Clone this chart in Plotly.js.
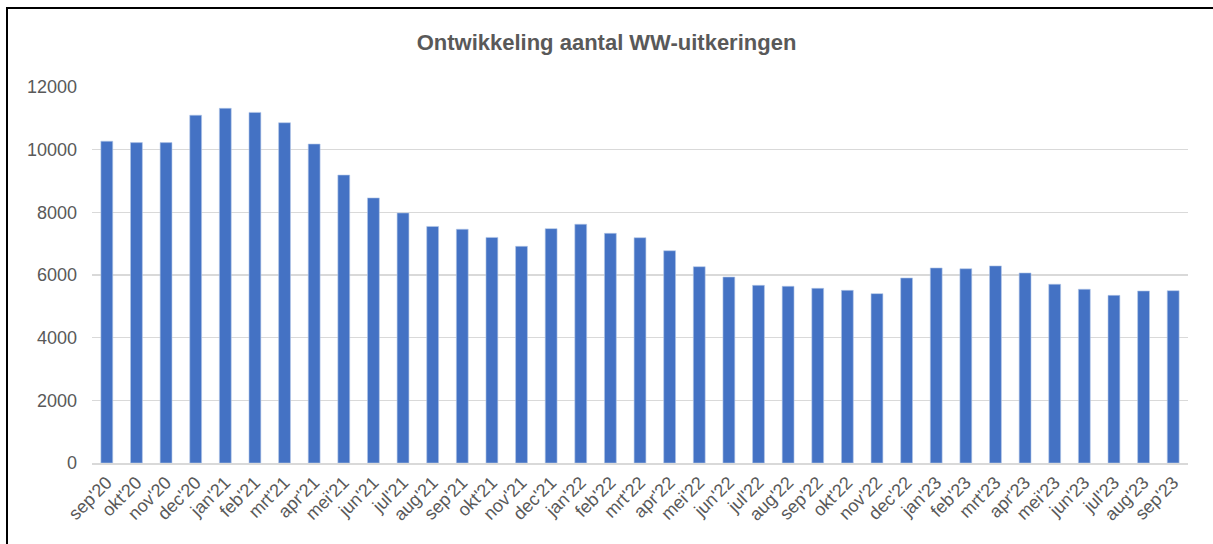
<!DOCTYPE html>
<html>
<head>
<meta charset="utf-8">
<script src="https://cdn.plot.ly/plotly-3.0.1.min.js"></script>
<style>
  html, body { margin: 0; padding: 0; background: #ffffff; overflow: hidden; }
  #chart { position: absolute; left: 0; top: 0; width: 1213px; height: 544px; }
  #frame {
    position: absolute; left: 6px; top: 7px; width: 1220px; height: 560px;
    border: 2px solid #000000; pointer-events: none;
  }
</style>
</head>
<body>
<div id="chart"></div>
<div id="frame"></div>
<script>
const months = [
  "sep'20", "okt'20", "nov'20", "dec'20", "jan'21", "feb'21", "mrt'21", "apr'21",
  "mei'21", "jun'21", "jul'21", "aug'21", "sep'21", "okt'21", "nov'21", "dec'21",
  "jan'22", "feb'22", "mrt'22", "apr'22", "mei'22", "jun'22", "jul'22", "aug'22",
  "sep'22", "okt'22", "nov'22", "dec'22", "jan'23", "feb'23", "mrt'23", "apr'23",
  "mei'23", "jun'23", "jul'23", "aug'23", "sep'23"
];

const uitkeringen = [
  10270, 10225, 10225, 11100, 11320, 11190, 10860, 10180,
  9190, 8460, 7980, 7550, 7460, 7200, 6915, 7480,
  7620, 7330, 7190, 6775, 6265, 5935, 5670, 5640,
  5575, 5510, 5405, 5905, 6225, 6200, 6290, 6065,
  5705, 5545, 5350, 5490, 5500
];

const yTicks = [0, 2000, 4000, 6000, 8000, 10000, 12000];

const trace = {
  x: months,
  y: uitkeringen,
  type: 'bar',
  marker: { color: '#4472c4', line: { color: '#b4c7e7', width: 0.6 } },
  hoverinfo: 'x+y'
};

const layout = {
  width: 1213,
  height: 544,
  title: {
    text: '<b>Ontwikkeling aantal WW-uitkeringen</b>',
    font: { family: 'Liberation Sans, Arial, sans-serif', size: 22, color: '#595959' },
    x: 0.5, xanchor: 'center',
    y: 0.922, yanchor: 'middle'
  },
  font: { family: 'Liberation Sans, Arial, sans-serif', color: '#595959' },
  showlegend: false,
  bargap: 0.6,
  xaxis: {
    type: 'category',
    tickangle: -45,
    tickfont: { size: 18, color: '#595959' },
    showgrid: false,
    showline: true,
    linecolor: '#d9d9d9',
    linewidth: 2,
    ticks: '',
    automargin: false
  },
  yaxis: {
    range: [0, 12000],
    tickvals: yTicks,
    ticktext: yTicks.map(String),
    tickfont: { size: 18, color: '#595959' },
    showgrid: true,
    gridcolor: '#d9d9d9',
    gridwidth: 1.5,
    zeroline: false,
    showline: false,
    ticks: '',
    ticklabelstandoff: 14,
    automargin: false
  },
  plot_bgcolor: '#ffffff',
  paper_bgcolor: '#ffffff',
  margin: { t: 87, b: 81, l: 92, r: 25 }
};

Plotly.newPlot('chart', [trace], layout, { displayModeBar: false, staticPlot: true });
</script>
</body>
</html>
